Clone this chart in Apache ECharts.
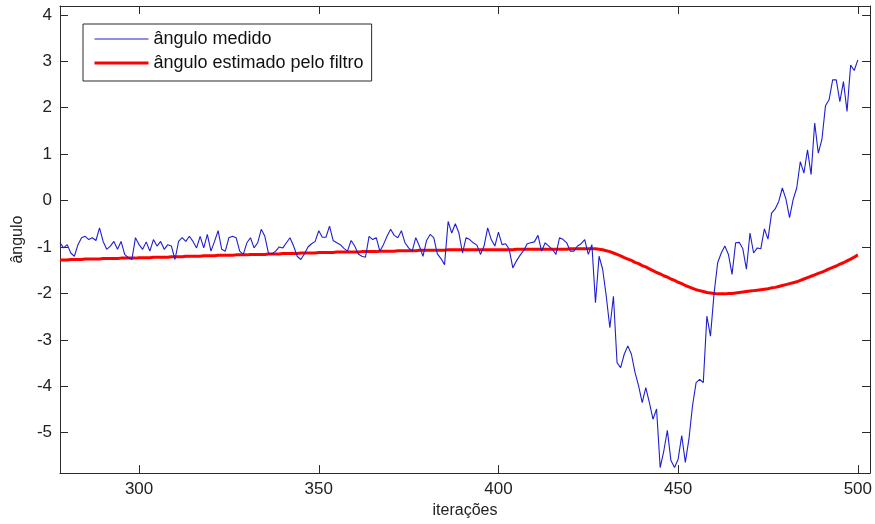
<!DOCTYPE html>
<html>
<head>
<meta charset="utf-8">
<script src="https://cdn.jsdelivr.net/npm/echarts@6/dist/echarts.min.js"></script>
<style>html,body{margin:0;padding:0;background:#fff}#c{width:875px;height:524px}</style>
</head>
<body>
<div id="c"></div>
<script>
// iterations start at 278, one value per iteration up to 500
var firstIteration = 278;
var xTicks = [300, 350, 400, 450, 500];
var yTicks = [-5, -4, -3, -2, -1, 0, 1, 2, 3, 4];
var seriesNames = ['ângulo medido', 'ângulo estimado pelo filtro'];

var measured = [
-0.91,-1.02,-0.95,-1.13,-1.20,-0.95,-0.80,-0.77,-0.84,-0.80,
-0.86,-0.59,-0.88,-1.05,-0.98,-0.88,-1.05,-0.88,-1.16,-1.23,
-1.27,-0.80,-0.95,-1.05,-0.89,-1.09,-0.84,-0.98,-0.88,-1.05,
-0.95,-0.98,-1.27,-0.88,-0.80,-0.88,-0.77,-0.88,-1.02,-0.77,
-1.02,-0.73,-1.09,-0.88,-0.65,-1.05,-1.09,-0.80,-0.77,-0.80,
-1.09,-1.16,-0.91,-0.80,-1.02,
-0.91,-0.62,-0.77,-1.13,-1.15,-1.09,-1.00,-1.02,-0.91,-0.80,
-0.98,-1.20,-1.27,-1.15,-1.00,-0.93,-0.88,-0.65,-0.79,-0.79,
-0.55,-0.86,-0.91,-0.95,-1.03,-1.09,-0.86,-0.98,-1.15,-1.20,
-1.22,-0.77,-0.84,-0.80,-1.09,-0.95,-0.77,-0.62,-0.75,-0.80,
-0.65,-0.91,-1.02,-1.09,-0.80,-0.98,-1.20,-0.86,-0.73,-0.80,
-1.15,-1.25,-1.38,-0.45,-0.70,
-0.50,-0.70,-1.13,-0.80,-0.84,-0.91,-0.96,-1.16,-0.98,-0.59,
-0.84,-0.98,-0.68,-0.95,-0.93,-1.05,-1.45,-1.30,-1.18,-1.08,
-0.93,-0.91,-0.89,-0.75,-1.09,-0.91,-0.98,-1.05,-1.16,-0.80,
-0.84,-0.91,-1.09,-1.09,-0.98,-0.93,-0.84,-1.16,-0.95,
-2.20,-1.20,-1.48,-2.06,-2.74,-2.06,-3.49,-3.60,-3.31,-3.13,
-3.31,-3.70,-3.99,-4.35,-4.03,-4.35,-4.71,-4.49,-5.75,-5.40,
-4.95,-5.60,-5.75,-5.57,-5.06,-5.64,-5.14,-4.42,-3.92,-3.85,
-3.92,-2.49,-2.92,-2.00,
-1.34,-1.13,-0.98,-1.16,-1.59,-0.91,-0.90,-1.04,-1.48,-0.70,
-1.13,-1.02,-1.04,-0.61,-0.83,-0.27,-0.18,-0.02,0.27,0.03,
-0.37,0.02,0.27,0.84,0.59,1.09,0.56,1.67,1.02,1.31,
2.04,2.17,2.60,2.60,2.13,2.56,1.92,2.92,2.80,3.03
];

var estimated = [
-1.28,-1.28,-1.28,-1.27,-1.27,-1.27,-1.27,-1.26,-1.26,-1.26,-1.26,-1.26,
-1.25,-1.25,-1.25,-1.25,-1.25,-1.24,-1.24,-1.24,-1.24,-1.24,
-1.23,-1.23,-1.23,-1.23,-1.22,-1.22,-1.22,-1.22,-1.22,-1.21,
-1.21,-1.21,-1.21,-1.20,-1.20,-1.20,-1.20,-1.20,-1.19,-1.19,
-1.19,-1.19,-1.18,-1.18,-1.18,-1.18,-1.18,-1.17,-1.17,-1.17,
-1.17,-1.16,-1.16,-1.16,-1.16,-1.16,-1.15,-1.15,-1.15,-1.15,
-1.14,-1.14,-1.14,-1.14,-1.14,-1.13,-1.13,-1.13,-1.13,-1.13,
-1.12,-1.12,-1.12,-1.12,-1.12,-1.11,-1.11,-1.11,-1.11,-1.11,
-1.11,-1.11,-1.10,-1.10,-1.10,-1.10,-1.10,-1.09,-1.09,-1.09,
-1.09,-1.09,-1.08,-1.08,-1.08,-1.08,-1.08,-1.08,-1.07,-1.07,
-1.07,-1.07,-1.07,-1.07,-1.07,-1.07,-1.06,-1.06,-1.06,-1.06,
-1.06,-1.06,-1.06,-1.06,-1.06,-1.06,-1.06,-1.06,-1.06,-1.06,
-1.06,-1.06,-1.06,-1.06,-1.06,-1.05,-1.05,-1.05,-1.05,-1.05,
-1.05,-1.05,-1.05,-1.05,-1.05,-1.05,-1.05,-1.05,-1.05,-1.05,
-1.04,-1.04,-1.04,-1.04,-1.04,-1.04,-1.04,-1.04,-1.05,-1.06,
-1.08,-1.10,-1.13,-1.16,-1.19,-1.23,-1.26,-1.29,-1.33,-1.36,
-1.40,-1.43,-1.47,-1.51,-1.55,-1.58,-1.62,-1.65,-1.69,-1.72,
-1.76,-1.79,-1.83,-1.86,-1.89,-1.92,-1.94,-1.96,-1.98,-1.99,
-2.00,-2.01,-2.01,-2.01,-2.00,-2.00,-1.99,-1.98,-1.97,-1.96,
-1.95,-1.94,-1.93,-1.92,-1.91,-1.90,-1.88,-1.87,-1.85,-1.83,
-1.81,-1.79,-1.77,-1.75,-1.72,-1.69,-1.66,-1.63,-1.60,-1.57,
-1.54,-1.51,-1.47,-1.44,-1.41,-1.37,-1.34,-1.30,-1.26,-1.22,
-1.17
];

function pairs(vals) {
  return vals.map(function (v, k) { return [firstIteration + k, v]; });
}

var axisColor = '#2b2b2b';
var font = 'Liberation Sans, Arial, sans-serif';
var tickInside = { show: true, inside: true, length: 8, lineStyle: { color: axisColor, width: 1 } };

var chart = echarts.init(document.getElementById('c'), null, { renderer: 'canvas' });
chart.setOption({
  animation: false,
  backgroundColor: '#ffffff',
  grid: { left: 60, right: 1, top: 6, bottom: 50, containLabel: false },
  legend: {
    orient: 'vertical',
    left: 83, top: 24,
    padding: [5, 8, 8, 10],
    itemGap: 4,
    itemWidth: 54, itemHeight: 14,
    backgroundColor: '#ffffff',
    borderColor: axisColor, borderWidth: 1,
    itemStyle: { opacity: 0 },
    textStyle: { fontFamily: font, fontSize: 18, color: '#111', lineHeight: 20 },
    data: [
      { name: seriesNames[0], lineStyle: { width: 1.1 } },
      { name: seriesNames[1], lineStyle: { width: 3 } }
    ]
  },
  xAxis: [{
    type: 'value', min: 278, max: 503.4,
    name: 'iterações', nameLocation: 'middle', nameGap: 28,
    nameTextStyle: { fontFamily: font, fontSize: 16, color: '#222' },
    axisLine: { show: true, onZero: false, lineStyle: { color: axisColor, width: 1 } },
    axisTick: Object.assign({ customValues: xTicks }, tickInside),
    axisLabel: { customValues: xTicks, fontFamily: font, fontSize: 17, color: '#222', margin: 8 },
    splitLine: { show: false }
  }, {
    type: 'value', min: 278, max: 503.4, position: 'top',
    axisLine: { show: true, onZero: false, lineStyle: { color: axisColor, width: 1 } },
    axisTick: Object.assign({ customValues: xTicks }, tickInside),
    axisLabel: { show: false },
    splitLine: { show: false }
  }],
  yAxis: [{
    type: 'value', min: -5.87, max: 4.19,
    name: 'ângulo', nameLocation: 'middle', nameGap: 34, nameRotate: 90,
    nameTextStyle: { fontFamily: font, fontSize: 16, color: '#222' },
    axisLine: { show: true, onZero: false, lineStyle: { color: axisColor, width: 1 } },
    axisTick: Object.assign({ customValues: yTicks }, tickInside),
    axisLabel: { customValues: yTicks, fontFamily: font, fontSize: 17, color: '#222', margin: 8 },
    splitLine: { show: false }
  }, {
    type: 'value', min: -5.87, max: 4.19, position: 'right',
    axisLine: { show: true, onZero: false, lineStyle: { color: axisColor, width: 1 } },
    axisTick: Object.assign({ customValues: yTicks }, tickInside),
    axisLabel: { show: false },
    splitLine: { show: false }
  }],
  series: [{
    name: seriesNames[0], type: 'line', data: pairs(measured),
    xAxisIndex: 0, yAxisIndex: 0,
    showSymbol: false, symbol: 'none',
    lineStyle: { color: '#1f1fd0', width: 1.1 },
    itemStyle: { color: '#1f1fd0' },
    z: 3
  }, {
    name: seriesNames[1], type: 'line', data: pairs(estimated),
    xAxisIndex: 0, yAxisIndex: 0,
    showSymbol: false, symbol: 'none',
    lineStyle: { color: '#ff0000', width: 3 },
    itemStyle: { color: '#ff0000' },
    z: 2
  }]
});
</script>
</body>
</html>
